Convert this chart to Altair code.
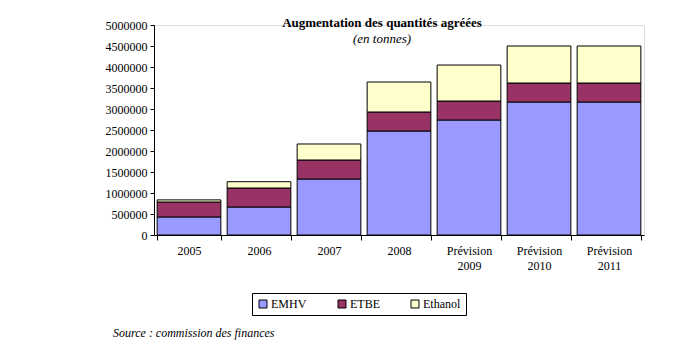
import altair as alt
import pandas as pd

years = ["2005", "2006", "2007", "2008", "Prévision|2009", "Prévision|2010", "Prévision|2011"]
emhv = [430000, 667000, 1333000, 2476000, 2738000, 3167000, 3167000]
etbe = [356000, 452000, 453000, 453000, 452000, 452000, 452000]
ethanol = [50000, 150000, 381000, 714000, 857000, 881000, 881000]
series = ["EMHV", "ETBE", "Ethanol"]
colors = ["#9999FF", "#993366", "#FFFFCC"]

rows = []
for i, y in enumerate(years):
    for k, (name, vals) in enumerate(zip(series, [emhv, etbe, ethanol])):
        rows.append({"annee": y, "type": name, "valeur": vals[i], "ordre": k})
df = pd.DataFrame(rows)

FONT = "Liberation Serif"

bars = alt.Chart(df).mark_bar(stroke="black", strokeWidth=1).encode(
    x=alt.X("annee:N", sort=years, title=None,
            scale=alt.Scale(paddingInner=0.09, paddingOuter=0.045),
            axis=alt.Axis(labelAngle=0, labelExpr="split(datum.label, '|')",
                          tickBand="extent", tickSize=5, labelPadding=5,
                          labelLineHeight=15, domainColor="black", tickColor="black",
                          labelColor="black", labelFont=FONT, labelFontSize=12)),
    y=alt.Y("valeur:Q", stack="zero", title=None,
            scale=alt.Scale(domain=[0, 5000000]),
            axis=alt.Axis(values=list(range(0, 5000001, 500000)), format="d",
                          grid=False, tickSize=4, labelPadding=3,
                          domainColor="black", tickColor="black",
                          labelColor="black", labelFont=FONT, labelFontSize=12)),
    color=alt.Color("type:N", sort=series,
                    scale=alt.Scale(domain=series, range=colors),
                    legend=alt.Legend(title=None, orient="none", legendX=98, legendY=268,
                                      direction="horizontal", symbolType="square",
                                      symbolSize=64, symbolStrokeColor="black",
                                      symbolStrokeWidth=1, labelFont=FONT,
                                      labelFontSize=12, labelColor="black",
                                      columnPadding=29, labelOffset=2,
                                      strokeColor="black", padding=5)),
    order=alt.Order("ordre:Q"),
)

src = alt.Chart(pd.DataFrame({"t": ["Source : commission des finances"]})).mark_text(
    font=FONT, fontSize=12, fontStyle="italic", align="left", baseline="middle",
    color="black"
).encode(text="t:N", x=alt.value(-41), y=alt.value(308))

chart = alt.layer(bars, src).properties(
    width=490, height=210,
    title=alt.TitleParams(text="Augmentation des quantités agréées",
                          subtitle="(en tonnes)", anchor="middle", dx=-17,
                          offset=-27, font=FONT, fontSize=13, fontWeight="bold",
                          subtitleFont=FONT, subtitleFontSize=13,
                          subtitleFontStyle="italic", color="black",
                          subtitleColor="black", subtitlePadding=3),
    autosize=alt.AutoSizeParams(type="none"),
    padding={"left": 154, "top": 25, "right": 34, "bottom": 118},
).configure_view(stroke=None).configure(background="white")

chart.save("out.html", embed_options={"renderer": "svg", "actions": False})
